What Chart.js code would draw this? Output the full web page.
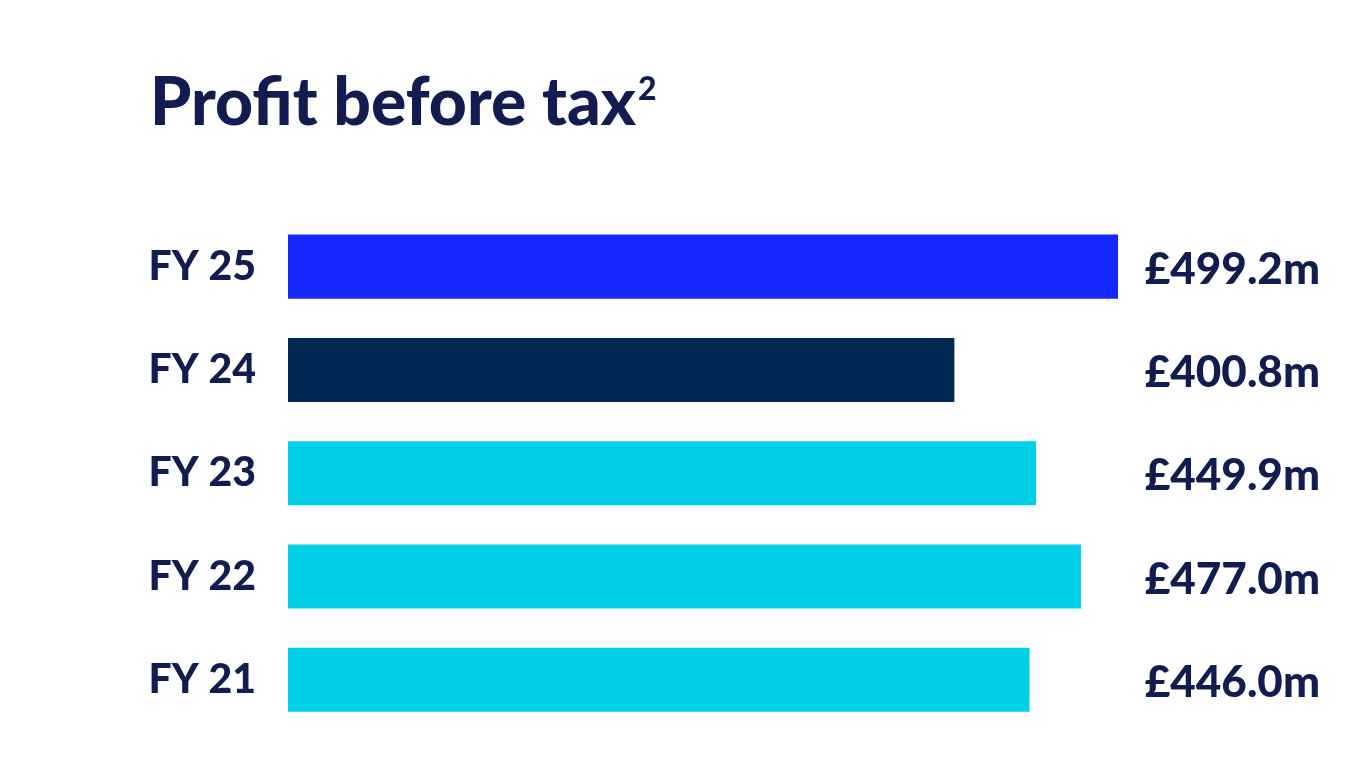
<!DOCTYPE html>
<html><head><meta charset="utf-8">
<script src="https://cdn.jsdelivr.net/npm/chart.js@4"></script>
<style>html,body{margin:0;padding:0;background:#fff}</style>
</head><body>
<canvas id="c" width="1367" height="780" style="width:1367px;height:780px"></canvas>
<script>
const categories = ["FY 25","FY 24","FY 23","FY 22","FY 21"];
const values = [499.2, 400.8, 449.9, 477.0, 446.0];
const valueLabels = ["£499.2m","£400.8m","£449.9m","£477.0m","£446.0m"];
const barColors = ["#1428ff","#022954","#00d1e8","#00d1e8","#00d1e8"];
const titleText = "Profit before tax";
const textColor = "#111c50";
const FONT = "Lato, 'Open Sans', sans-serif";

const overlay = {
  id:'overlay',
  afterDraw(chart){
    const ctx = chart.ctx;
    ctx.save();
    ctx.fillStyle = textColor;
    ctx.font = "900 66px " + FONT;
    ctx.textBaseline = "alphabetic";
    ctx.textAlign = "left";
    ctx.fillText(titleText, 150, 125);
    const w = ctx.measureText(titleText).width;
    ctx.font = "900 32px " + FONT;
    ctx.fillText("2", 150 + w + 2, 100);
    const meta = chart.getDatasetMeta(0);
    ctx.font = "900 44px " + FONT;
    ctx.textAlign = "right";
    ctx.textBaseline = "middle";
    meta.data.forEach((b,i)=>{
      ctx.fillText(valueLabels[i], 1320, b.y + 3);
    });
    ctx.restore();
  }
};

new Chart(document.getElementById('c'), {
  type:'bar',
  data:{ labels:categories, datasets:[{ data:values, backgroundColor:barColors, barPercentage:0.62, categoryPercentage:1 }]},
  options:{
    indexAxis:'y', responsive:false, animation:false,
    layout:{ padding:{ top:215, bottom:43, right:249, left:0 } },
    plugins:{ legend:{display:false}, tooltip:{enabled:false}, title:{display:false} },
    scales:{
      x:{ display:false, min:0, max:499.2 },
      y:{
        grid:{display:false}, border:{display:false},
        afterFit(s){ s.width = 288; },
        ticks:{ color:textColor, padding:24, font:{ family:FONT, size:41, weight:'900' } }
      }
    }
  },
  plugins:[overlay]
});
</script>
</body></html>
